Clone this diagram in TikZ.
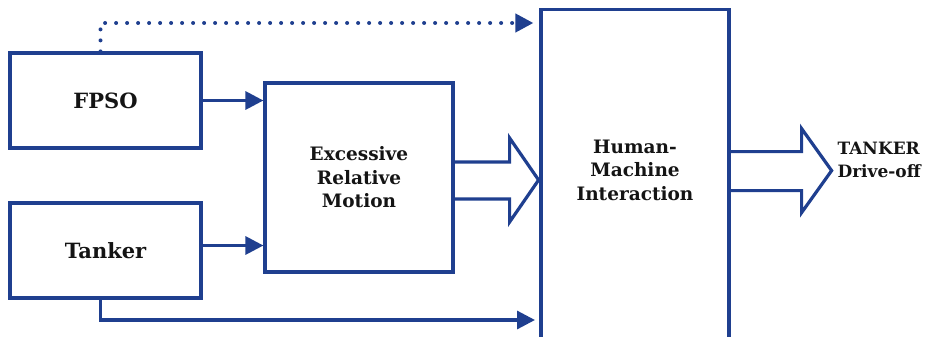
\documentclass[tikz,border=0pt]{standalone}
\usepackage{fontspec}
\setmainfont{DejaVu Serif}
\usepackage{tikz}
\usetikzlibrary{arrows.meta}
\definecolor{flowblue}{RGB}{31,63,143}
\definecolor{inktext}{RGB}{20,20,20}

\tikzset{
  block/.style={draw=flowblue, line width=3.2pt, rectangle, align=center, text=inktext,
    font=\bfseries\fontsize{18.5}{23.5}\selectfont},
  bigblock/.style={block, font=\bfseries\fontsize{21}{25}\selectfont},
  feed/.style={draw=flowblue, line width=3.2pt, -{Triangle[length=18pt,width=18pt]}},
  dotfeed/.style={feed, line width=4pt, line cap=round, dash pattern=on 0pt off 11pt},
  hollow/.style={draw=flowblue, line width=3.2pt, line join=miter},
}

\begin{document}
\begin{tikzpicture}[x=1pt, y=-1pt]
	\useasboundingbox (0,0) rectangle (932,337);
	% Boxes:
	\node[bigblock, minimum width=191pt, minimum height=95pt] (fpso) at (105.5,100.5) {FPSO};
	\node[bigblock, minimum width=191pt, minimum height=95pt] (tanker) at (105.5,250.5) {Tanker};
	\node[block, minimum width=188pt, minimum height=189pt] (erm) at (359,177.5) {Excessive\\Relative\\Motion};
	\node[block, minimum width=188pt, minimum height=345pt, anchor=north] (hmi) at (635,8) {};
	\node[block, draw=none] (hmitxt) at (635,170) {Human-\\Machine\\Interaction};
	\node[anchor=west, align=left, text=inktext, font=\bfseries\fontsize{17}{23}\selectfont] (drive) at (834,160) {TANKER\\Drive-off};
	% Inputs:
	\coordinate (tin) at ([yshift=5pt]tanker.east);
	\coordinate (hmilow) at (541,320);
	\draw[feed] (fpso.east) -- (erm.west |- fpso.east);
	\draw[feed] (tin) -- (erm.west |- tin);
	\draw[dotfeed, shorten >=6pt] ([xshift=-5pt]fpso.north) |- ([yshift=-15pt]hmi.north west);
	\draw[feed, shorten >=6pt] ([xshift=-5pt]tanker.south) |- (hmilow);
	% Hollow arrows:
	\draw[hollow] ([yshift=15.5pt]erm.east) -- ++(55,0) -- ++(0,-24) -- ++(29,42) -- ++(-29,42) -- ++(0,-23) -- ++(-55,0);
	\draw[hollow] ([yshift=30.5pt]hmi.east) -- ++(71,0) -- ++(0,-23) -- ++(30,42) -- ++(-30,42) -- ++(0,-22) -- ++(-71,0);
\end{tikzpicture}
\end{document}
